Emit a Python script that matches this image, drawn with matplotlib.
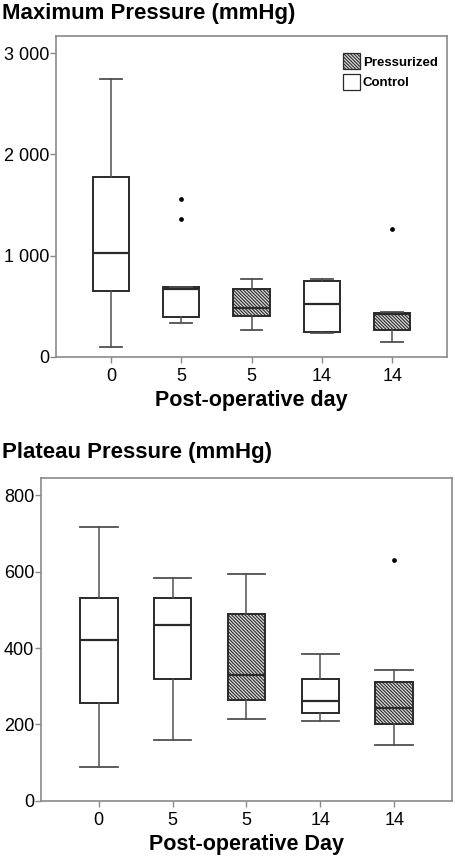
import matplotlib
matplotlib.use("Agg")
import matplotlib.pyplot as plt
from matplotlib.patches import Patch

plt.rcParams["font.family"] = ["Liberation Sans", "DejaVu Sans"]
plt.rcParams["hatch.linewidth"] = 0.8
plt.rcParams["hatch.color"] = "#7a7a7a"

# x categories (same for both panels)
days   = ["0", "5", "5", "14", "14"]
groups = ["Control", "Control", "Pressurized", "Control", "Pressurized"]

# Maximum pressure (mmHg)
max_whislo = [100, 337, 264, 235, 146]
max_q1     = [653, 390, 400, 241, 264]
max_med    = [1030, 667, 479, 522, 423]
max_q3     = [1776, 687, 673, 753, 436]
max_whishi = [2750, 687, 769, 769, 440]
max_fliers = [[], [1560, 1363], [], [], [1267]]

# Plateau pressure (mmHg)
pla_whislo = [87, 159, 215, 210, 145]
pla_q1     = [257, 320, 264, 231, 200]
pla_med    = [421, 461, 329, 261, 243]
pla_q3     = [530, 530, 490, 318, 310]
pla_whishi = [718, 583, 593, 384, 342]
pla_fliers = [[], [], [], [], [632]]

EDGE = "#2a2a2a"
WHISK = "#505050"
FRAME = "#8a8a8a"
HATCH = "\\" * 10


def stats(lo, q1, med, q3, hi, fl):
    return [dict(whislo=a, q1=b, med=c, q3=d, whishi=e, fliers=f)
            for a, b, c, d, e, f in zip(lo, q1, med, q3, hi, fl)]


def draw(ax, st, ylim, yticks, yticklabels, xlabel, width, capfrac):
    bp = ax.bxp(st, positions=range(1, 6), widths=width, patch_artist=True,
                boxprops=dict(edgecolor=EDGE, linewidth=1.4),
                medianprops=dict(color=EDGE, linewidth=1.6),
                whiskerprops=dict(color=WHISK, linewidth=1.1),
                capprops=dict(color=WHISK, linewidth=1.3),
                flierprops=dict(marker="o", markersize=2.4, markerfacecolor="black",
                                markeredgecolor="black"),
                capwidths=width * capfrac)
    for box, g in zip(bp["boxes"], groups):
        if g == "Pressurized":
            box.set_facecolor("#dcdcdc")
            box.set_hatch(HATCH)
        else:
            box.set_facecolor("white")
    ax.set_ylim(*ylim)
    ax.set_xlim(0.22, 5.78)
    ax.set_yticks(yticks)
    ax.set_yticklabels(yticklabels)
    ax.set_xticks(range(1, 6))
    ax.set_xticklabels(days)
    ax.tick_params(labelsize=13, length=4, width=1.0, color=FRAME, pad=1)
    ax.tick_params(axis="x", pad=4)
    for s in ax.spines.values():
        s.set_color(FRAME)
        s.set_linewidth(1.2)
    ax.set_xlabel(xlabel, fontsize=15.5, fontweight="bold", labelpad=4)


fig = plt.figure(figsize=(4.56, 8.59), dpi=100)

ax1 = fig.add_axes([0.1228, 0.5847, 0.8575, 0.3733])
draw(ax1, stats(max_whislo, max_q1, max_med, max_q3, max_whishi, max_fliers),
     (0, 3170), [0, 1000, 2000, 3000], ["0", "1 000", "2 000", "3 000"],
     "Post-operative day", 0.52, 0.6)
handles = [Patch(facecolor="#dcdcdc", edgecolor=EDGE, hatch=HATCH, linewidth=0.9,
                 label="Pressurized"),
           Patch(facecolor="white", edgecolor=EDGE, linewidth=0.9, label="Control")]
ax1.legend(handles=handles, loc="upper right", frameon=False,
           prop=dict(weight="bold", size=9.5), handlelength=1.3, handleheight=1.5,
           handletextpad=0.2, labelspacing=0.35, borderaxespad=0.3,
           bbox_to_anchor=(1.0, 0.975))
fig.text(0.005, 0.997, "Maximum Pressure (mmHg)", fontsize=16, fontweight="bold",
         ha="left", va="top")

ax2 = fig.add_axes([0.0899, 0.0679, 0.9013, 0.3753])
draw(ax2, stats(pla_whislo, pla_q1, pla_med, pla_q3, pla_whishi, pla_fliers),
     (0, 845), [0, 200, 400, 600, 800], ["0", "200", "400", "600", "800"],
     "Post-operative Day", 0.51, 1.0)
fig.text(0.005, 0.486, "Plateau Pressure (mmHg)", fontsize=16, fontweight="bold",
         ha="left", va="top")

fig.savefig("out.png", dpi=100)
